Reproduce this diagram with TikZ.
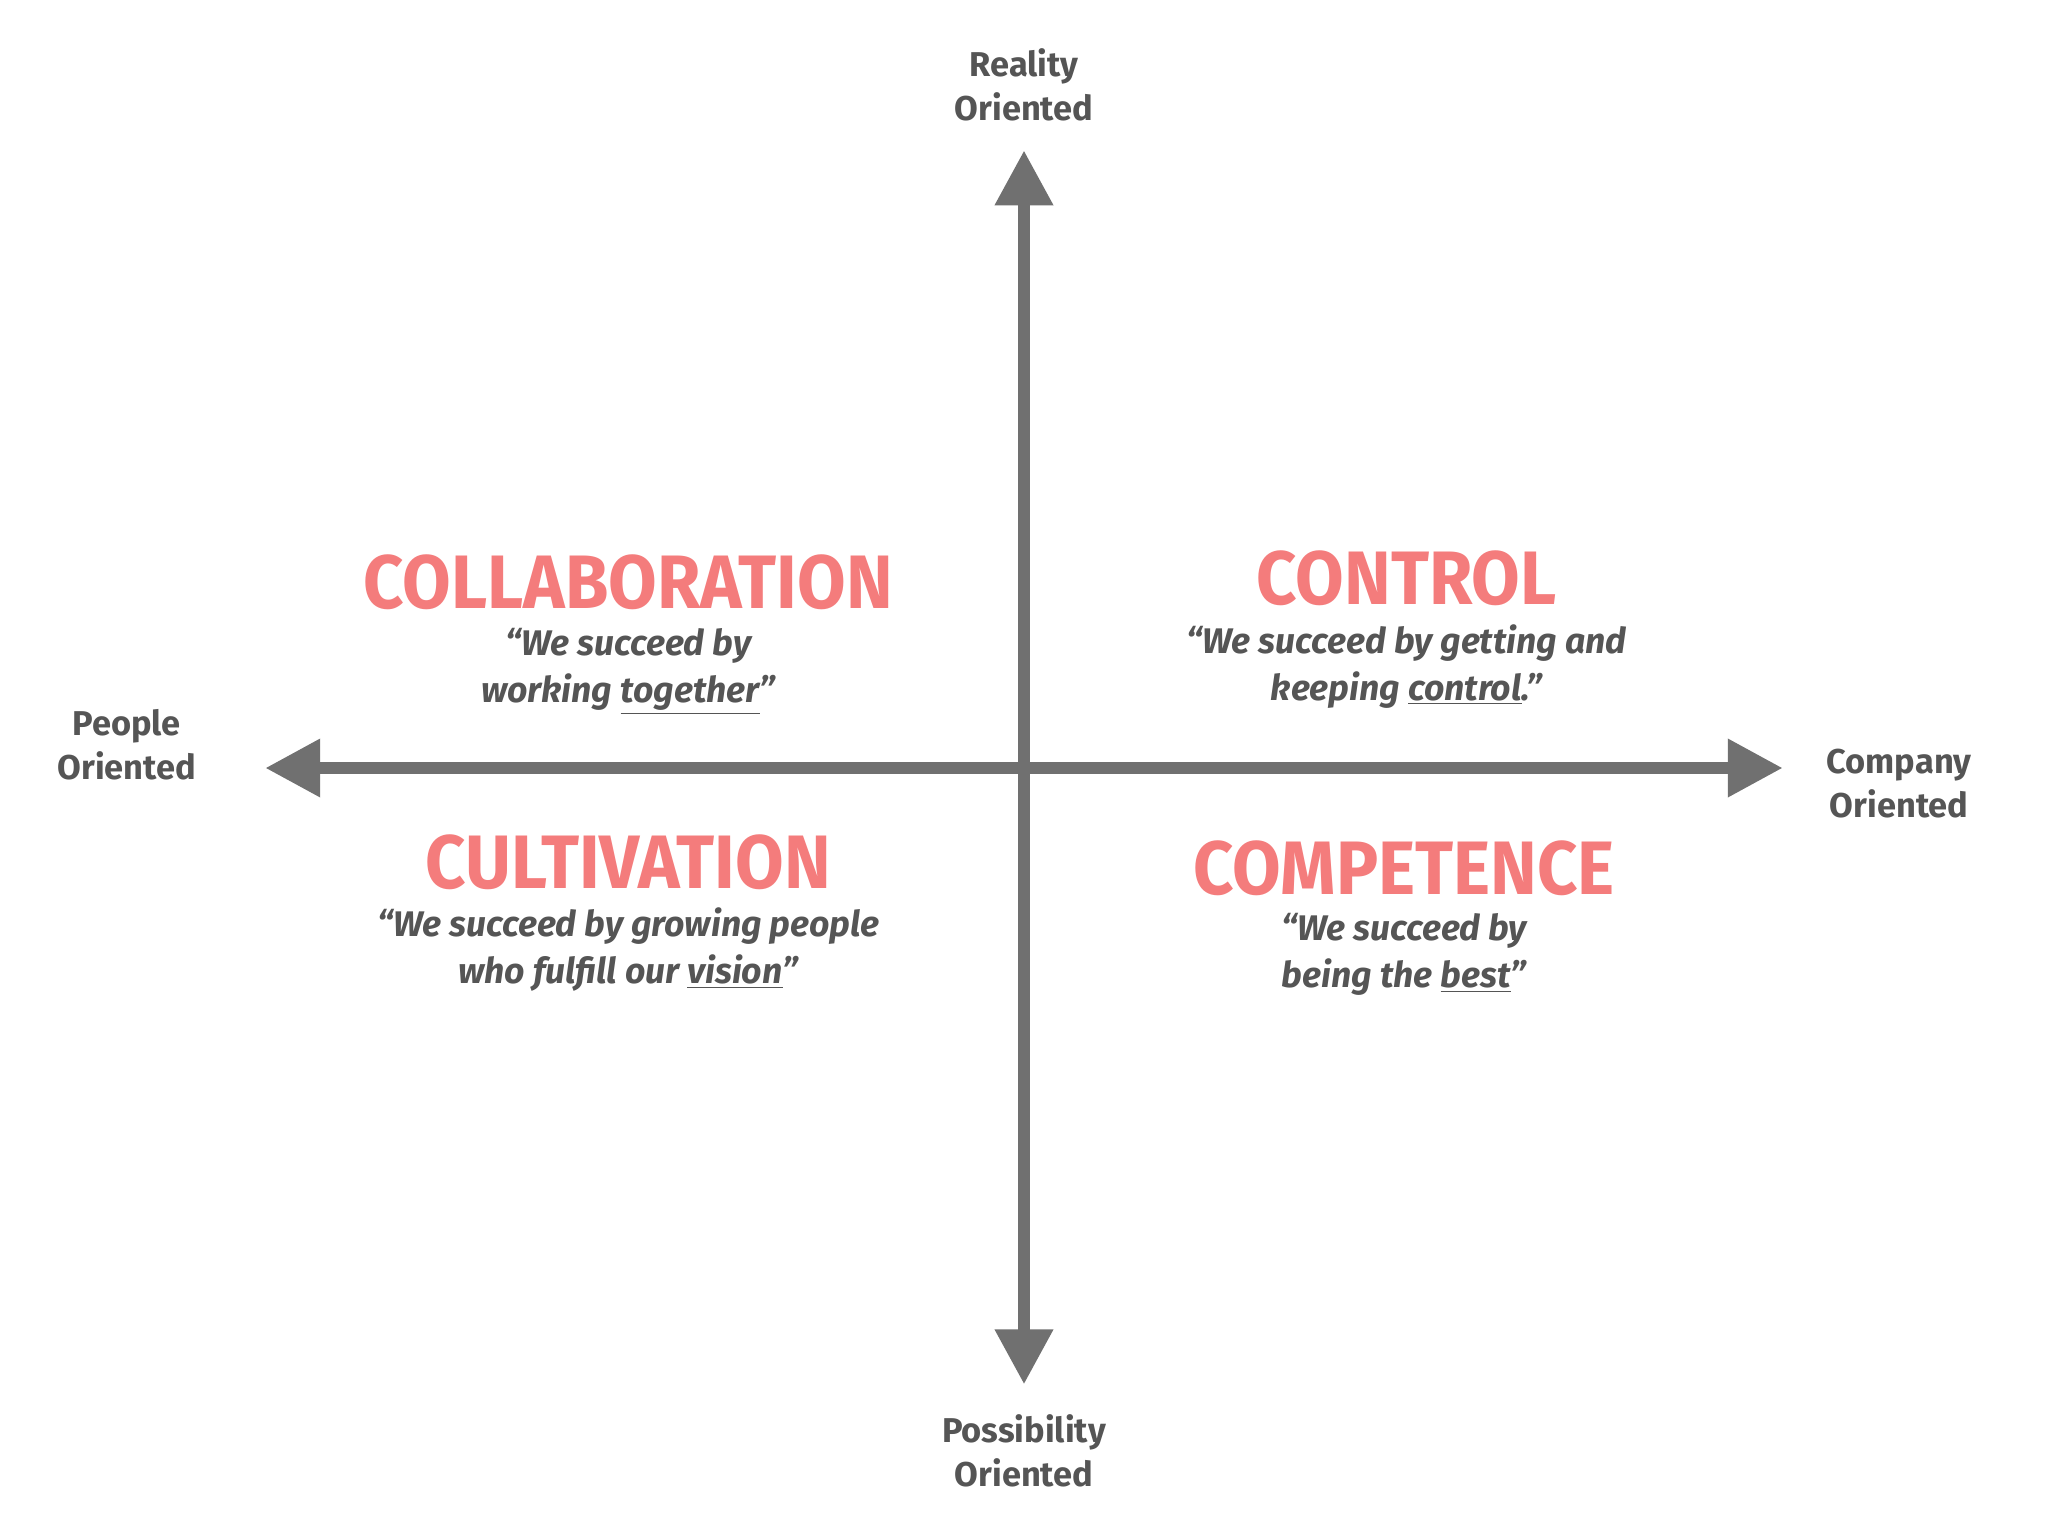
\documentclass[tikz,border=0pt]{standalone}
\usepackage{fontspec}
\setmainfont{Fira Sans}
\usetikzlibrary{arrows.meta}
\definecolor{ax}{HTML}{707070}
\definecolor{hd}{HTML}{F47C7C}
\definecolor{tx}{HTML}{555555}
\tikzset{
 axis/.style={ax,line width=5.6pt,-{Triangle[length=24pt,width=24pt]}},
 head/.style={hd,font=\fontsize{33}{36}\selectfont\bfseries,xscale=0.93,inner sep=0},
 quote/.style={tx,font=\fontsize{15.5}{20.5}\selectfont\bfseries\itshape,align=center,inner sep=0},
 lab/.style={tx,font=\fontsize{15}{19}\selectfont\bfseries,align=center,inner sep=0}
}
\begin{document}
\begin{tikzpicture}[x=0.02cm,y=-0.02cm]
\fill[white] (0,0) rectangle (1568,1176);
\coordinate (o) at (784,588);
\coordinate (l) at (203,588);
\coordinate (r) at (1365,588);
\coordinate (t) at (784,115);
\coordinate (b) at (784,1060);
\draw[axis] (o) -- (l);
\draw[axis] (o) -- (r);
\draw[axis] (o) -- (t);
\draw[axis] (o) -- (b);
\node[lab] (nt) at (784,65) {Reality\\Oriented};
\node[lab] (nb) at (784,1111) {Possibility\\Oriented};
\node[lab] (nl) at (97,570) {People\\Oriented};
\node[lab] (nr) at (1454,600) {Company\\Oriented};
\node[head] (h1) at (481,446) {COLLABORATION};
\node[head] (h2) at (1077,443) {CONTROL};
\node[head] (h3) at (481,660) {CULTIVATION};
\node[head] (h4) at (1075,665) {COMPETENCE};
\node[quote] (q1) at (481,514) {“We succeed by\\working \underline{together}”};
\node[quote] (q2) at (1077,510) {“We succeed by getting and\\keeping \underline{control}.”};
\node[quote] (q3) at (481,727) {“We succeed by growing people\\who fulfill our \underline{vision}"};
\node[quote] (q4) at (1075,731) {“We succeed by\\being the \underline{best}”};
\end{tikzpicture}
\end{document}
